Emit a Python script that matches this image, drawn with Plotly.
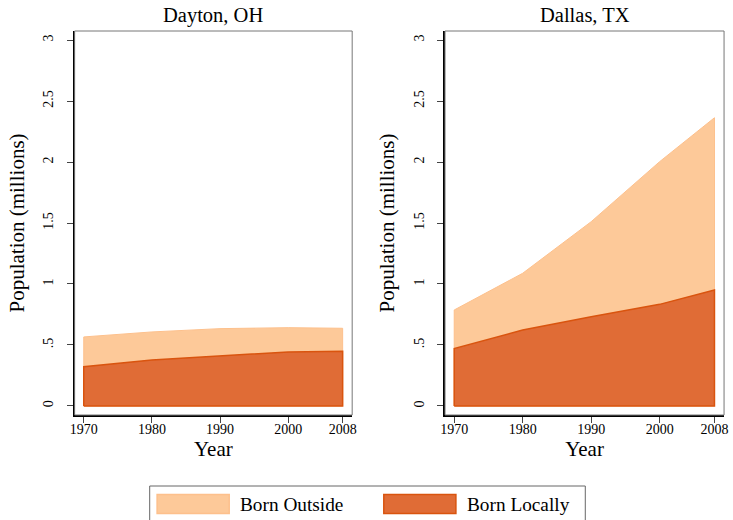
import plotly.graph_objects as go

# ---- data (millions) ----
years = [1970, 1980, 1990, 2000, 2008]
dayton_total = [0.566, 0.607, 0.634, 0.642, 0.637]   # Born Outside + Born Locally
dayton_local = [0.322, 0.377, 0.410, 0.443, 0.448]
dallas_total = [0.787, 1.088, 1.511, 2.003, 2.363]
dallas_local = [0.470, 0.623, 0.732, 0.833, 0.951]
panel_titles = ["Dayton, OH", "Dallas, TX"]
series_names = ["Born Outside", "Born Locally"]
y_tickvals = [0, 0.5, 1, 1.5, 2, 2.5, 3]
y_ticktext = ["0", ".5", "1", "1.5", "2", "2.5", "3"]
x_tickvals = [1970, 1980, 1990, 2000, 2008]

LIGHT_FILL = "#FDC999"
LIGHT_LINE = "#FDC08C"
DARK_FILL = "#E06C36"
DARK_LINE = "#D9540F"
FONT = "Liberation Serif"

W, H = 733, 520


def px_x(v):
    return v / W


def px_y(v):
    return 1 - v / H


def polygon(xs, ys):
    return [xs[0]] + list(xs) + [xs[-1], xs[0]], [0] + list(ys) + [0, 0]


fig = go.Figure()

panels = [(dayton_total, dayton_local), (dallas_total, dallas_local)]
for i, (tot, loc) in enumerate(panels):
    xa = "x" if i == 0 else "x2"
    ya = "y" if i == 0 else "y2"
    px_, py_ = polygon(years, tot)
    fig.add_trace(go.Scatter(x=px_, y=py_, fill="toself", fillcolor=LIGHT_FILL,
                             mode="lines", line=dict(color=LIGHT_LINE, width=1),
                             name=series_names[0], showlegend=False,
                             xaxis=xa, yaxis=ya))
    px_, py_ = polygon(years, loc)
    fig.add_trace(go.Scatter(x=px_, y=py_, fill="toself", fillcolor=DARK_FILL,
                             mode="lines", line=dict(color=DARK_LINE, width=1.5),
                             name=series_names[1], showlegend=False,
                             xaxis=xa, yaxis=ya))

ydom = [px_y(415), px_y(31)]
xdoms = [[px_x(70.5), px_x(351.5)], [px_x(445.5), px_x(728)]]

axis_common_x = dict(range=[1968.66, 2009.4], tickvals=x_tickvals,
                     ticks="outside", ticklen=6, tickcolor="#444", tickwidth=1,
                     ticklabelstandoff=-6,
                     showline=True, linecolor="black", linewidth=1.5,
                     showgrid=False, zeroline=False,
                     tickfont=dict(family=FONT, size=14, color="black"),
                     title=dict(text="Year", font=dict(family=FONT, size=21, color="black"),
                                standoff=2))
axis_common_y = dict(range=[-0.074, 3.074], tickvals=y_tickvals, ticktext=y_ticktext,
                     ticks="outside", ticklen=6, tickcolor="#444", tickwidth=1,
                     tickangle=-90, ticklabelstandoff=8,
                     showline=True, linecolor="black", linewidth=1.5,
                     showgrid=False, zeroline=False,
                     tickfont=dict(family=FONT, size=14, color="black"),
                     title=dict(text="Population (millions)",
                                font=dict(family=FONT, size=21, color="black"),
                                standoff=11))

fig.update_layout(
    width=W, height=H,
    margin=dict(l=0, r=0, t=0, b=0),
    paper_bgcolor="white", plot_bgcolor="white",
    showlegend=False,
    xaxis=dict(domain=xdoms[0], anchor="y", **axis_common_x),
    yaxis=dict(domain=ydom, anchor="x", **axis_common_y),
    xaxis2=dict(domain=xdoms[1], anchor="y2", **axis_common_x),
    yaxis2=dict(domain=ydom, anchor="x2", **axis_common_y),
)

# plot-region frames (thin gray) and panel titles
for i, (xr, yr) in enumerate([("x domain", "y domain"), ("x2 domain", "y2 domain")]):
    fig.add_shape(type="rect", xref=xr, yref=yr, x0=0, x1=1, y0=0, y1=1,
                  line=dict(color="#777", width=1), layer="above")
    fig.add_annotation(text=panel_titles[i], xref=xr, yref="paper",
                       x=0.5, y=px_y(15), yanchor="middle", showarrow=False,
                       font=dict(family=FONT, size=20.5, color="black"))

# legend (drawn below panels)
fig.add_shape(type="rect", xref="paper", yref="paper",
              x0=px_x(146.5), x1=px_x(587.5), y0=px_y(540), y1=px_y(486),
              line=dict(color="#666", width=1), fillcolor="white")
legend_items = [(series_names[0], LIGHT_FILL, LIGHT_LINE, 154, 236),
                (series_names[1], DARK_FILL, DARK_LINE, 383.5, 466)]
for name, fc, lc, sx, tx in legend_items:
    fig.add_shape(type="rect", xref="paper", yref="paper",
                  x0=px_x(sx), x1=px_x(sx + 73), y0=px_y(513.5), y1=px_y(494.5),
                  line=dict(color=lc, width=1.5), fillcolor=fc)
    fig.add_annotation(text=name, xref="paper", yref="paper", x=px_x(tx), y=px_y(504),
                       xanchor="left", yanchor="middle", showarrow=False,
                       font=dict(family=FONT, size=19.3, color="black"))

# remove the page's default body margin so the figure fills the window exactly
fig.write_html("out.html", config={"displayModeBar": False},
               post_script="document.body.style.margin='0px';")
